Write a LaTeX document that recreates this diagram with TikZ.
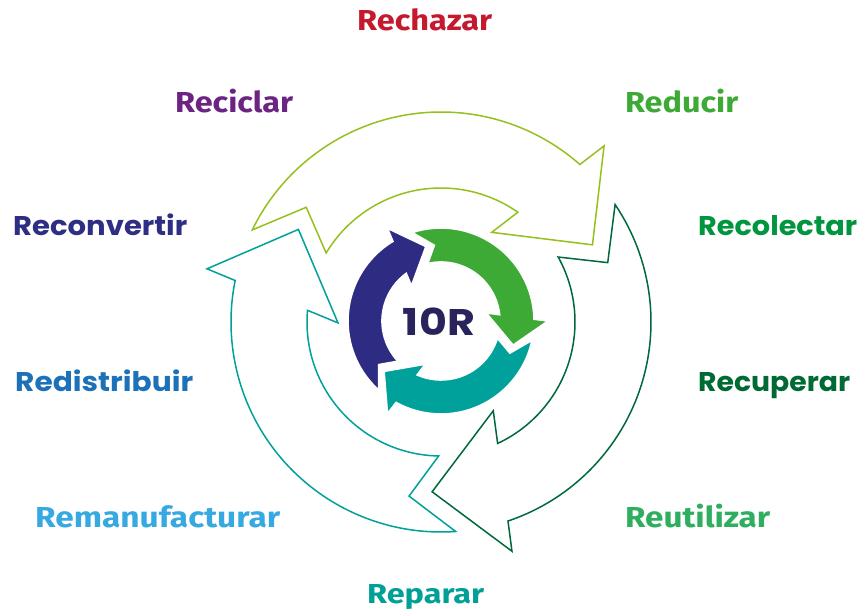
\documentclass[tikz,border=0pt]{standalone}
\usepackage{fontspec}
\usepackage{graphicx}
\newfontfamily\widefont{Poppins}
\newfontfamily\condfont{Fira Sans}

% palette
\definecolor{cRechazar}{HTML}{C51A2E}
\definecolor{cReciclar}{HTML}{6C2383}
\definecolor{cReducir}{HTML}{3DAA35}
\definecolor{cReconvertir}{HTML}{2E2E84}
\definecolor{cRecolectar}{HTML}{00963F}
\definecolor{cRedistribuir}{HTML}{1D71B8}
\definecolor{cRecuperar}{HTML}{006A35}
\definecolor{cRemanufacturar}{HTML}{36A9E1}
\definecolor{cReutilizar}{HTML}{2FAE5F}
\definecolor{cReparar}{HTML}{00A096}
\definecolor{cLime}{HTML}{95C11F}
\definecolor{cDeep}{HTML}{00693C}
\definecolor{cTeal}{HTML}{00A19A}
\definecolor{cGreen}{HTML}{3DAA35}
\definecolor{cNavy}{HTML}{2E2C82}
\definecolor{cCore}{HTML}{29235C}

% text boxed to a given width and cap height
\newcommand\widelabel[3]{\resizebox{#1pt}{#2pt}{\widefont\bfseries\smash{#3}\vphantom{R}}}
\newcommand\condlabel[3]{\resizebox{#1pt}{#2pt}{\condfont\bfseries\smash{#3}\vphantom{R}}}

% large outlined cycle arrow, drawn around the origin of a rotated scope
\newcommand\bigcyclearrow[2]{%
  \begin{scope}[shift={(441,289)}, rotate=#1]
    \draw[bigarrow, draw=#2]
      (154:210pt) -- (139.6:177pt) -- (149:134pt)
      arc[start angle=149, end angle=55.0, radius=134pt]
      -- (60.5:103pt) -- (27:170pt) -- (47.2:240pt) -- (48.6:210pt)
      arc[start angle=48.6, end angle=154, radius=210pt] -- cycle;
  \end{scope}}

% small filled cycle arrow of the inner ring
\newcommand\smallcyclearrow[2]{%
  \begin{scope}[shift={(441,290)}, rotate=#1]
    \fill[smallarrow, fill=#2]
      (108:93pt) -- (95:76pt) -- (103:59pt)
      arc[start angle=103, end angle=6.1, radius=59pt]
      -- (10:46pt) -- (-18.5:76pt) -- (0:107pt) -- (1.1:93pt)
      arc[start angle=1.1, end angle=108, radius=93pt] -- cycle;
  \end{scope}}

\tikzset{
  bigarrow/.style={line width=1.5pt, line join=miter, fill=none},
  smallarrow/.style={draw=white, line width=1.6pt, line join=miter},
  lbl/.style={inner sep=0pt, anchor=base west},
}

\begin{document}
\begin{tikzpicture}[x=1pt, y=1pt]
  \useasboundingbox (0,0) rectangle (859,611);
  \fill[white] (0,0) rectangle (859,611);

  % outer ring of outlined arrows
  \bigcyclearrow{0}{cLime}
  \bigcyclearrow{-120}{cDeep}
  \bigcyclearrow{120}{cTeal}

  % inner ring of filled arrows
  \smallcyclearrow{0}{cGreen}
  \smallcyclearrow{-120}{cTeal}
  \smallcyclearrow{120}{cNavy}

  \node[inner sep=0pt, anchor=center, text=cCore] (core) at (439,288)
    {\widelabel{72}{26}{10R}};

  % the ten strategies
  \node[lbl, text=cRechazar]       (rechazar)       at (357,580) {\condlabel{135}{20}{Rechazar}};
  \node[lbl, text=cReciclar]       (reciclar)       at (175,498) {\condlabel{118}{20}{Reciclar}};
  \node[lbl, text=cReducir]        (reducir)        at (625,498) {\condlabel{113}{20}{Reducir}};
  \node[lbl, text=cReconvertir]    (reconvertir)    at (13,375)  {\widelabel{174}{19}{Reconvertir}};
  \node[lbl, text=cRecolectar]     (recolectar)     at (698,375) {\widelabel{159}{19}{Recolectar}};
  \node[lbl, text=cRedistribuir]   (redistribuir)   at (15,219)  {\widelabel{178}{19}{Redistribuir}};
  \node[lbl, text=cRecuperar]      (recuperar)      at (698,219) {\widelabel{152}{19}{Recuperar}};
  \node[lbl, text=cRemanufacturar] (remanufacturar) at (35,84)   {\condlabel{245}{20}{Remanufacturar}};
  \node[lbl, text=cReutilizar]     (reutilizar)     at (625,84)  {\condlabel{145}{20}{Reutilizar}};
  \node[lbl, text=cReparar]        (reparar)        at (367,8)   {\condlabel{117}{19}{Reparar}};
\end{tikzpicture}
\end{document}
